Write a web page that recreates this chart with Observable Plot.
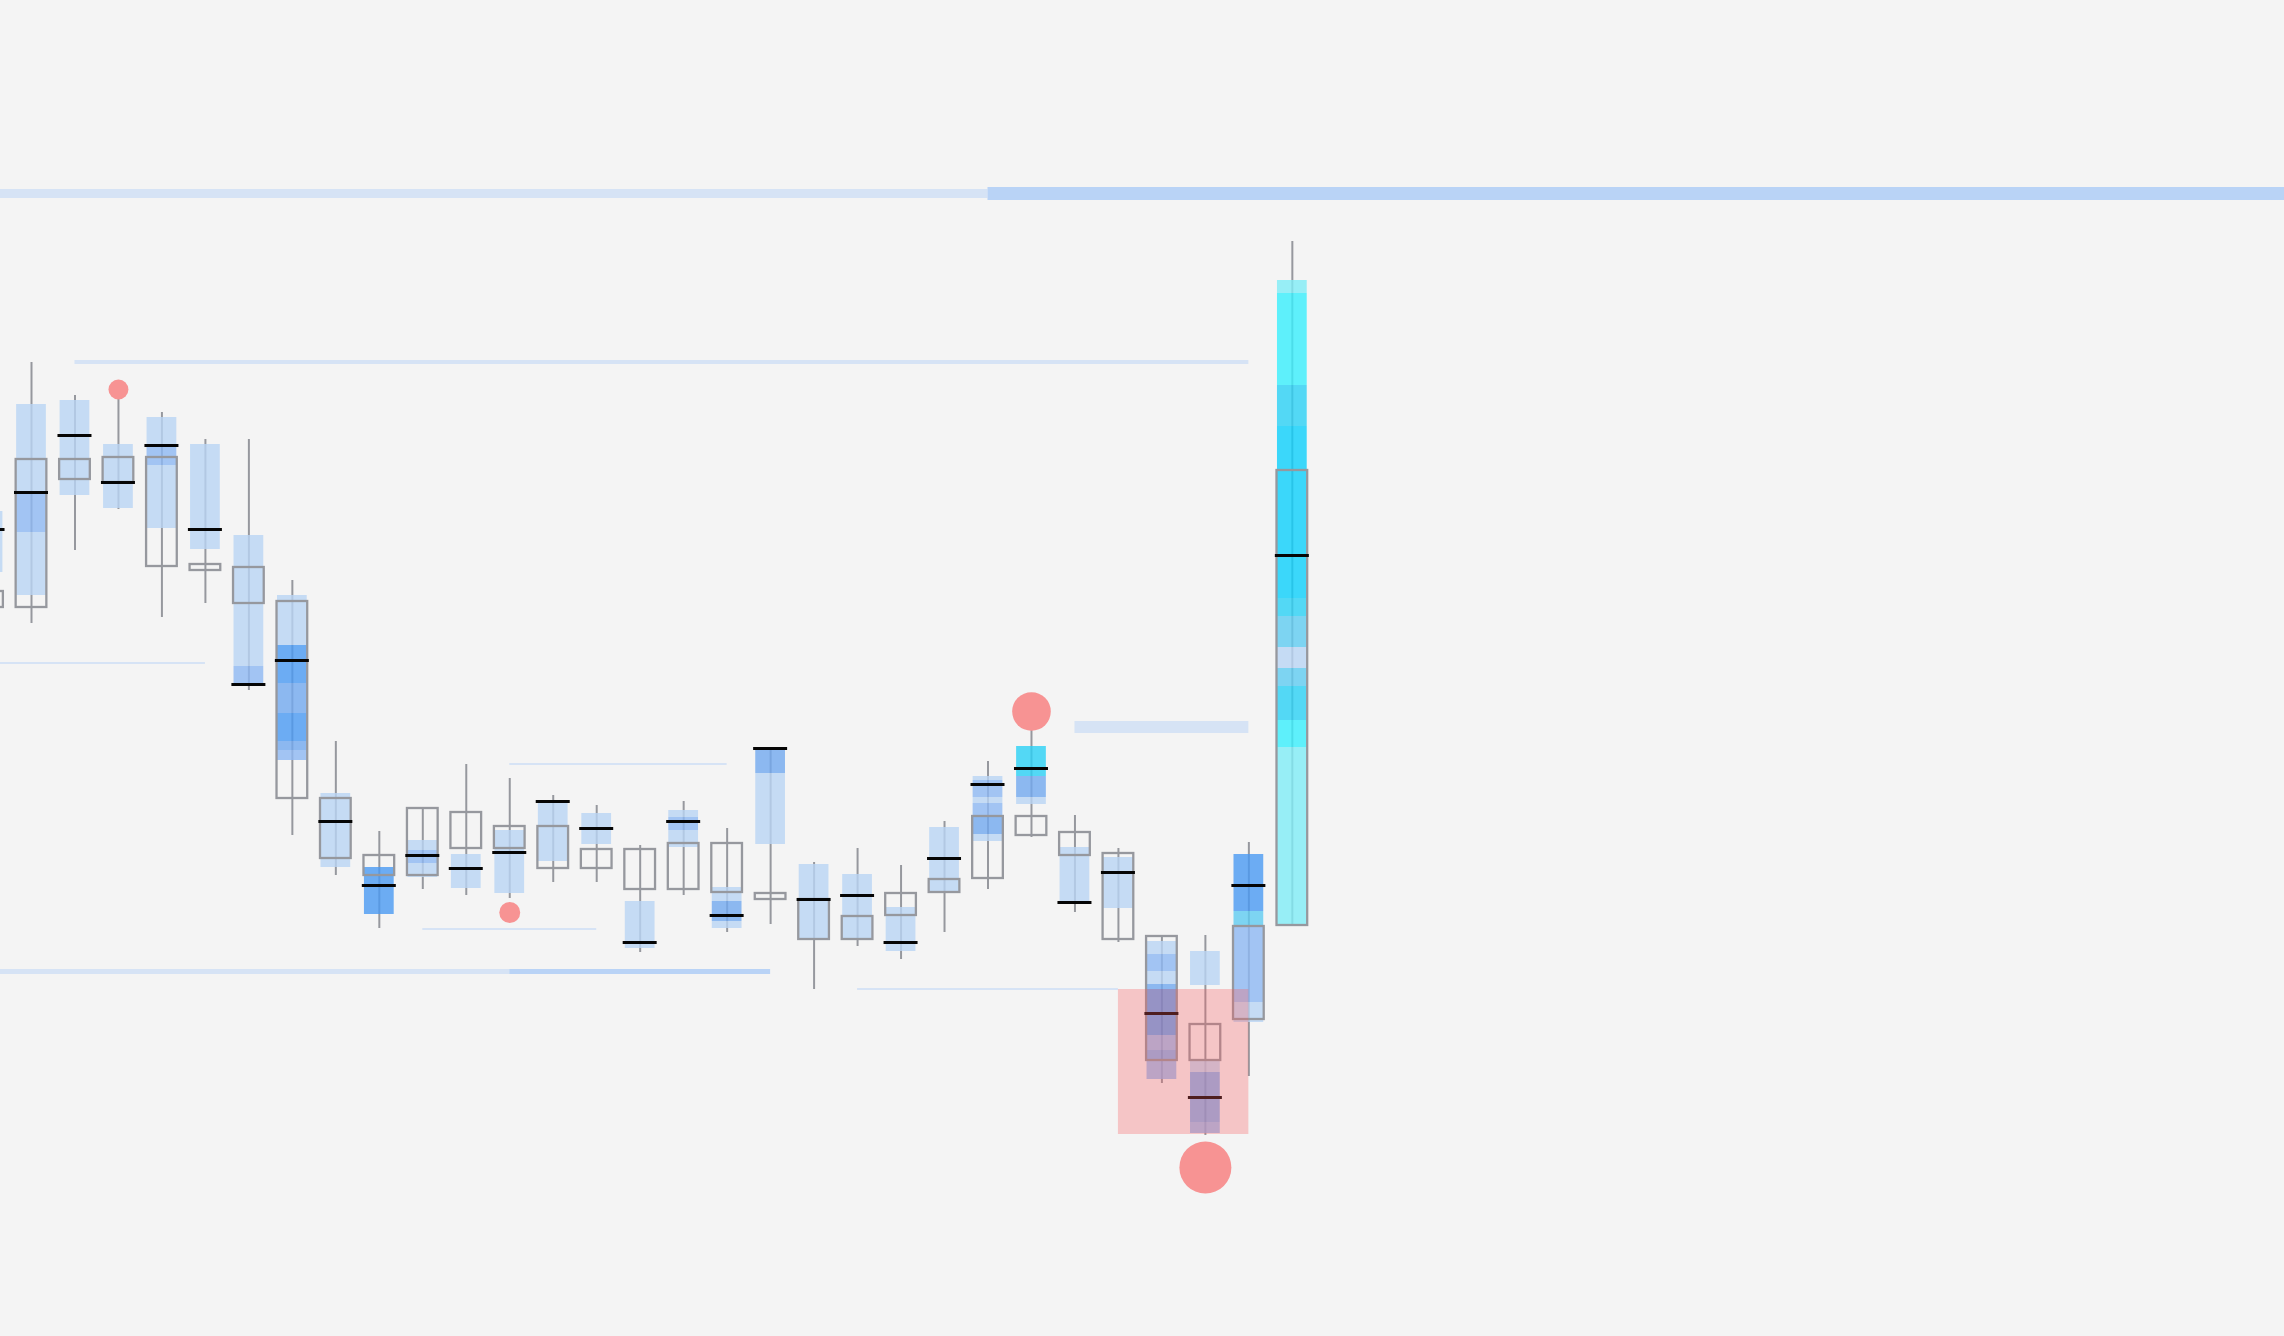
<!DOCTYPE html>
<html>
<head>
<meta charset="utf-8">
<script src="https://cdn.jsdelivr.net/npm/d3@7"></script>
<script src="https://cdn.jsdelivr.net/npm/@observablehq/plot@0.6"></script>
<style>
html, body { margin: 0; padding: 0; background: #f4f4f4; overflow: hidden; }
#chart svg { display: block; }
</style>
</head>
<body>
<div id="chart"></div>
<script>
// ---- candle data (bar index, prices) ----
const bars  = [-1, 0, 1, 2, 3, 4, 5, 6, 7, 8, 9, 10, 11, 12, 13, 14, 15, 16, 17, 18, 19, 20, 21, 22, 23, 24, 25, 26, 27, 28, 29];
const open  = [80.9, 94.1, 94.1, 94.3, 94.3, 83.6, 83.3, 79.9, 60.2, 54.5, 59.2, 58.8, 57.4, 57.4, 55.1, 55.1, 55.7, 55.7, 50.7, 50.1, 48.4, 50.7, 52.1, 58.4, 58.4, 56.8, 54.7, 46.4, 37.6, 47.4, 93.0];
const close = [79.3, 79.3, 92.1, 91.8, 83.4, 83.0, 79.7, 60.2, 54.2, 52.5, 52.5, 55.2, 55.2, 53.2, 53.2, 51.1, 51.1, 50.8, 50.1, 46.1, 46.1, 48.5, 50.8, 52.2, 56.5, 54.5, 46.1, 34.0, 34.0, 38.1, 47.5];
const high  = [80.9, 103.8, 100.5, 100.2, 98.8, 96.1, 96.1, 82.0, 65.9, 56.9, 59.2, 63.6, 62.2, 60.5, 59.5, 55.5, 59.9, 57.2, 65.1, 53.8, 55.2, 53.5, 57.9, 63.9, 67.3, 58.5, 55.2, 46.4, 46.5, 55.8, 115.9];
const low   = [79.3, 77.7, 85.0, 89.1, 78.3, 79.7, 71.0, 56.5, 52.5, 47.2, 51.1, 50.5, 50.2, 51.8, 51.8, 44.8, 50.5, 46.8, 47.6, 41.1, 45.4, 44.1, 46.8, 51.1, 56.3, 48.8, 45.8, 31.7, 26.5, 32.4, 47.5];
const poc   = [87.1, 90.8, 96.5, 91.8, 95.5, 87.1, 71.6, 74.0, 57.9, 51.5, 54.5, 53.2, 54.8, 59.9, 57.2, 45.8, 57.9, 48.5, 65.2, 50.1, 50.5, 45.8, 54.2, 61.6, 63.2, 49.8, 52.8, 38.7, 30.3, 51.5, 84.5];

// ---- per-bar volume profile segments: [bar, top, bottom, intensity] ----
const profile = [
  [-1, 88.9, 82.8, "b1"],
  [0, 99.6, 90.8, "b1"], [0, 90.8, 86.8, "b2"], [0, 86.8, 80.5, "b1"],
  [1, 100.0, 90.5, "b1"],
  [2, 95.6, 89.2, "b1"],
  [3, 98.3, 95.4, "b1"], [3, 95.4, 93.5, "b2"], [3, 93.5, 87.2, "b1"],
  [4, 95.6, 85.1, "b1"],
  [5, 86.5, 73.4, "b1"], [5, 73.4, 71.5, "b2"],
  [6, 80.5, 75.5, "b1"], [6, 75.5, 71.7, "b4"], [6, 71.7, 68.7, "b3"], [6, 68.7, 65.9, "b4"], [6, 65.9, 65.0, "b3"], [6, 65.0, 64.0, "b2"],
  [7, 60.7, 53.3, "b1"],
  [8, 53.3, 48.6, "b4"],
  [9, 56.0, 55.0, "b1"], [9, 55.0, 53.7, "b2"], [9, 53.7, 52.3, "b1"],
  [10, 54.6, 51.2, "b1"],
  [11, 57.0, 50.7, "b1"],
  [12, 59.7, 53.9, "b1"],
  [13, 58.7, 55.6, "b1"],
  [14, 49.9, 45.2, "b1"],
  [15, 59.0, 58.3, "b1"], [15, 58.3, 57.0, "b2"], [15, 57.0, 55.3, "b1"],
  [16, 51.3, 49.9, "b1"], [16, 49.9, 47.9, "b3"], [16, 47.9, 47.2, "b1"],
  [17, 65.0, 62.7, "b3"], [17, 62.7, 55.6, "b1"],
  [18, 53.6, 46.1, "b1"],
  [19, 52.6, 46.1, "b1"],
  [20, 49.3, 44.9, "b1"],
  [21, 57.3, 50.8, "b1"],
  [22, 62.4, 62.0, "b1"], [22, 62.0, 60.3, "b2"], [22, 60.3, 59.7, "b1"], [22, 59.7, 58.3, "b2"], [22, 58.3, 56.6, "b3"], [22, 56.6, 55.9, "b1"],
  [23, 65.4, 62.4, "c3"], [23, 62.4, 60.3, "b3"], [23, 60.3, 59.6, "b1"],
  [24, 55.3, 49.8, "b1"],
  [25, 54.3, 49.2, "b1"],
  [26, 45.9, 44.6, "b1"], [26, 44.6, 42.9, "b2"], [26, 42.9, 41.6, "b1"], [26, 41.6, 41.1, "b3"], [26, 41.1, 36.5, "b4"], [26, 36.5, 35.0, "b2"], [26, 35.0, 34.0, "b3"], [26, 34.0, 32.1, "b2"],
  [27, 44.9, 41.5, "b1"], [27, 34.0, 32.8, "b1"], [27, 32.8, 27.8, "b3"], [27, 27.8, 26.7, "b2"],
  [28, 54.6, 48.9, "b4"], [28, 48.9, 47.4, "c5"], [28, 47.4, 39.8, "b2"], [28, 39.8, 37.8, "b1"],
  [29, 112.0, 110.7, "c1"], [29, 110.7, 101.5, "c2"], [29, 101.5, 97.4, "c3"], [29, 97.4, 80.2, "c4"],
  [29, 80.2, 78.4, "c3"], [29, 78.4, 75.3, "c5"], [29, 75.3, 73.2, "b1"], [29, 73.2, 71.4, "c5"],
  [29, 71.4, 68.0, "c3"], [29, 68.0, 65.3, "c2"], [29, 65.3, 47.5, "c1"]
];
const intensities = ["b1", "b2", "b3", "b4", "c1", "c2", "c3", "c4", "c5"];
// drawn at 0.8 opacity over the #f4f4f4 background
const intensityColors = ["#b9d4f4", "#8db8f3", "#72a9ef", "#4a9af2", "#7fecf6", "#38effc", "#2ad1f5", "#0cd0fb", "#5fccf1"];

// ---- horizontal levels ----
const levelFrom = [-1, 22, 1, -1, 11, 9, -1, 11, 19, 24];
const levelTo   = [22, 53, 28, 4, 16, 13, 11, 17, 25, 28];
const levelTop  = [121.1, 121.3, 104.0, 73.8, 63.7, 47.2, 43.1, 43.1, 41.2, 67.9];
const levelBot  = [120.2, 120.0, 103.6, 73.6, 63.5, 47.0, 42.6, 42.6, 41.0, 66.7];
const levelKind = ["weak", "strong", "weak", "weak", "weak", "weak", "weak", "strong", "weak", "weak"];

// ---- zone and signals ----
const zoneFrom = [25], zoneTo = [28], zoneTop = [41.1], zoneBot = [26.6];
const signalBar = [2, 11, 23, 27];
const signalPrice = [101.1, 48.8, 68.9, 23.3];
const signalStrength = [1, 1.1, 3.75, 6.8];

// ---- build tables ----
const candles = bars.map((b, k) => ({i: b, open: open[k], close: close[k], high: high[k], low: low[k], poc: poc[k]}));
const segs = profile.map(([i, top, bot, lvl]) => ({i, top, bot, lvl}));
const levels = levelFrom.map((f, k) => ({from: f, to: levelTo[k], top: levelTop[k], bot: levelBot[k], kind: levelKind[k]}));
const zones = zoneFrom.map((f, k) => ({from: f, to: zoneTo[k], top: zoneTop[k], bot: zoneBot[k]}));
const signals = signalBar.map((b, k) => ({i: b, price: signalPrice[k], s: signalStrength[k]}));

const BODY = 0.353, PROF = 0.342, TICK = 0.391;

const chart = Plot.plot({
  width: 2284,
  height: 1336,
  margin: 0,
  style: {background: "#f4f4f4"},
  x: {type: "linear", domain: [-0.713, 51.82], axis: null},
  y: {type: "linear", domain: [6.4, 140], axis: null},
  r: {type: "sqrt", domain: [0, 6.8], range: [0, 26]},
  color: {type: "ordinal", domain: intensities, range: intensityColors},
  marks: [
    Plot.rect(levels, {filter: d => d.kind === "weak", x1: "from", x2: "to", y1: "top", y2: "bot", fill: "#d6e3f5"}),
    Plot.rect(levels, {filter: d => d.kind === "strong", x1: "from", x2: "to", y1: "top", y2: "bot", fill: "#b9d3f6"}),
    Plot.ruleX(candles, {x: "i", y1: "low", y2: "high", stroke: "#96989e", strokeWidth: 2}),
    Plot.rect(segs, {x1: d => d.i - PROF, x2: d => d.i + PROF, y1: "top", y2: "bot", fill: "lvl", fillOpacity: 0.8}),
    Plot.rect(candles, {x1: d => d.i - BODY, x2: d => d.i + BODY, y1: "open", y2: "close", fill: "none", stroke: "#96989e", strokeWidth: 2.3}),
    Plot.ruleY(candles, {y: "poc", x1: d => d.i - TICK, x2: d => d.i + TICK, stroke: "#050505", strokeWidth: 3}),
    Plot.rect(zones, {x1: "from", x2: "to", y1: "top", y2: "bot", fill: "rgb(250,89,92)", fillOpacity: 0.3}),
    Plot.dot(signals, {x: "i", y: "price", r: "s", fill: "#f79393", stroke: "none"})
  ]
});
document.getElementById("chart").appendChild(chart);
</script>
</body>
</html>
